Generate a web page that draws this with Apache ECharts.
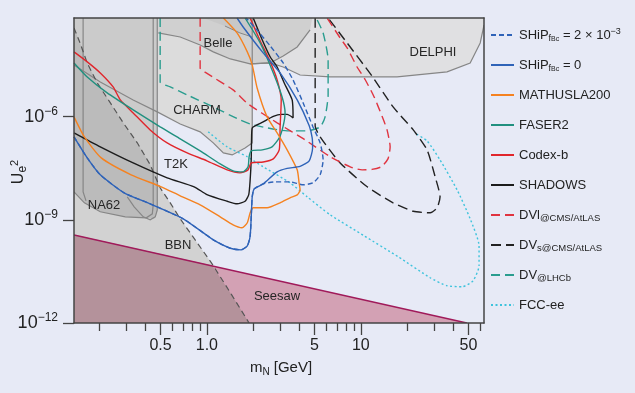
<!DOCTYPE html>
<html><head><meta charset="utf-8">
<script src="https://cdn.jsdelivr.net/npm/echarts@6/dist/echarts.min.js"></script>
<style>html,body{margin:0;padding:0;background:#e7eaf6;}#c{width:635px;height:393px;}</style>
</head><body><div id="c"></div>
<script>
// ---------- axis ranges & ticks ----------
const XMIN = 0.137, XMAX = 63.1, YMIN = 1e-12, YMAX = 7.35e-4;
const xMajorTicks = [0.5, 1, 5, 10, 50];
const xMinorTicks = [0.2, 0.3, 0.4, 0.6, 0.7, 0.8, 0.9, 2, 3, 4, 6, 7, 8, 9, 20, 30, 40, 60];
const yMajorTicks = [1e-12, 1e-9, 1e-6];

// ---------- sensitivity curves (m_N [GeV], U_e^2) ----------
const shipDashM = [0.137,0.167,0.203,0.290,0.428,0.702,1.10,1.42,1.67,1.83,1.91,1.95,1.97,2.03,2.32,2.78,3.47,4.22,4.89,5.44,5.69,5.44,4.89,4.22,3.63,3.13,2.58,2.06,1.80];
const shipDashU = [2.57e-7,6.3e-8,2.03e-8,6.1e-9,2.91e-9,1.07e-9,2.62e-10,1.49e-10,1.34e-10,1.76e-10,3.43e-10,1.95e-9,4.66e-9,7.9e-9,1.11e-8,1.27e-8,1.27e-8,1.04e-8,1.19e-8,2.03e-8,5.5e-8,1.72e-7,5.0e-7,2.5e-6,1.16e-5,3.63e-5,1.13e-4,3.77e-4,7.35e-4];
const shipM = [0.137,0.167,0.203,0.290,0.428,0.702,1.10,1.42,1.67,1.83,1.91,1.95,1.97,2.03,2.32,2.86,3.32,4.03,4.62,4.86,4.83,4.62,3.86,2.99,2.32,1.72,1.57];
const shipU = [2.57e-7,6.3e-8,2.03e-8,6.1e-9,2.91e-9,1.07e-9,2.62e-10,1.49e-10,1.34e-10,1.76e-10,3.43e-10,1.95e-9,4.66e-9,7.9e-9,1.11e-8,2.48e-8,3.13e-8,3.58e-8,5.2e-8,1.23e-7,2.4e-7,5.4e-7,3.05e-6,1.86e-5,7.1e-5,4.03e-4,7.35e-4];
const mathM = [0.137,0.160,0.206,0.322,0.505,0.671,0.904,1.22,1.48,1.69,1.83,1.91,2.0,2.46,2.99,3.47,3.86,4.03,3.97,3.86,3.32,2.86,2.46,2.12,1.97,1.83,1.57,1.28];
const mathU = [9.8e-7,2.57e-7,6.3e-8,2.03e-8,9.1e-9,4.98e-9,2.72e-9,1.22e-9,7.1e-10,5.85e-10,8.2e-10,1.6e-9,2.23e-9,2.23e-9,3.11e-9,4.35e-9,5.3e-9,7.4e-9,1.19e-8,2.83e-8,1.08e-7,3.37e-7,9.8e-7,6.8e-6,3.18e-5,7.6e-5,2.7e-4,7.35e-4];
const faserM = [0.137,0.167,0.225,0.332,0.497,0.671,0.904,1.22,1.48,1.72,1.85,1.88,1.94,2.29,2.65,2.95,3.13,3.22,3.08,2.70,2.22,1.77];
const faserU = [3.63e-5,1.42e-5,4.9e-6,1.57e-6,5.0e-7,2.25e-7,1.01e-7,4.2e-8,2.65e-8,2.48e-8,3.46e-8,6.8e-8,1.01e-7,1.08e-7,1.32e-7,2.4e-7,5.4e-7,1.28e-6,3.73e-6,1.86e-5,1.38e-4,7.35e-4];
const codexM = [0.137,0.167,0.203,0.246,0.274,0.332,0.428,0.552,0.745,1.0,1.355,1.64,1.85,1.94,2.32,2.70,2.95,2.99,3.04,2.86,2.58,2.22,1.91];
const codexU = [7.6e-5,3.9e-5,1.86e-5,7.3e-6,3.05e-6,1.28e-6,4.1e-7,1.72e-7,8.8e-8,5.2e-8,2.83e-8,2.32e-8,2.83e-8,4.5e-8,4.8e-8,5.9e-8,1.08e-7,5.0e-7,3.05e-6,1.16e-5,3.9e-5,1.58e-4,7.35e-4];
const shadowsM = [0.137,0.203,0.332,0.552,0.827,1.00,1.355,1.57,1.77,1.87,1.91,1.94,1.95,1.97,2.32,2.70,3.04,3.32,3.63,3.58,3.18,2.86,2.58,2.29,2.0];
const shadowsU = [3.37e-7,1.32e-7,4.5e-8,1.66e-8,9.1e-9,5.4e-9,3.46e-9,2.92e-9,3.46e-9,5.4e-9,1.44e-8,5.5e-8,2.1e-7,4.7e-7,7.0e-7,1.01e-6,1.16e-6,1.16e-6,9.2e-7,3.05e-6,9.5e-6,2.77e-5,5.4e-5,1.69e-4,7.35e-4];
const dvlM = [0.904,0.904,0.99,1.48,1.85,2.86,4.35,6.32,8.53,10.2,11.8,13.55,15.0,15.5,14.8,13.7,12.2,10.7,9.46,8.15,7.34,6.04];
const dvlU = [7.35e-4,2.6e-5,1.86e-5,5.97e-6,2.34e-6,6.6e-7,2.1e-7,6.8e-8,3.46e-8,2.83e-8,2.92e-8,3.46e-8,5.9e-8,1.32e-7,4.1e-7,1.05e-6,3.73e-6,1.16e-5,2.77e-5,9.9e-5,1.93e-4,7.35e-4];
const dvsM = [5.05,5.05,5.44,7.34,11.0,16.2,21.9,28.2,31.3,32.7,30.4,26.9,21.9,16.2,11.8,8.15,6.13];
const dvsU = [7.35e-4,5.4e-7,2.57e-7,4.5e-8,9.1e-9,3.11e-9,1.77e-9,1.6e-9,2.23e-9,4.66e-9,1.77e-8,1.08e-7,4.1e-7,1.91e-6,1.52e-5,1.38e-4,7.35e-4];
const dvLhcbM = [0.497,0.497,0.578,0.745,1.10,1.64,1.91,2.46,3.32,4.48,5.44,5.86,6.13,6.13,5.69,5.13];
const dvLhcbU = [7.35e-4,1.02e-5,7.3e-6,4.27e-6,1.91e-6,8.0e-7,6.1e-7,4.7e-7,3.85e-7,3.85e-7,5.0e-7,9.8e-7,4.27e-6,4.4e-5,2.7e-4,7.35e-4];
const fccM = [1.02,1.355,1.83,2.32,3.47,4.48,6.32,10.5,17.5,28.2,36.3,45.5,53.6,58.6,58.6,51.3,42.2,32.7,26.9,22.2];
const fccU = [3.6e-7,1.32e-7,6.8e-8,3.46e-8,1.19e-8,4.66e-9,1.4e-9,3.43e-10,8.4e-11,2.07e-11,1.21e-11,1.13e-11,1.69e-11,4.6e-11,1.75e-10,1.07e-9,7.4e-9,5.5e-8,1.97e-7,3.37e-7];

// ---------- excluded regions ----------
const bbnM = [0.137,0.150,0.167,0.194,0.236,0.286,0.353,0.428,0.497,0.578,0.671,0.839,1.07,1.42,1.88,0.137];
const bbnU = [3.77e-4,1.38e-4,3.6e-5,9.5e-6,2.5e-6,6.6e-7,1.73e-7,4.0e-8,8.5e-9,3.1e-9,1.07e-9,2.6e-10,5.6e-11,7.6e-12,1e-12,1e-12];
const seesawM = [0.137,48.8,0.137];
const seesawU = [3.65e-10,1e-12,1e-12];
const seesawBbnM = [0.137,1.08,1.42,1.88,0.137];
const seesawBbnU = [3.65e-10,4.7e-11,7.6e-12,1e-12,1e-12];
const lowM = [0.137,0.476,0.476,0.455,0.404,0.295,0.203,0.160,0.137];
const lowU = [7.35e-4,7.35e-4,1.71e-9,1.07e-9,1.14e-9,1.22e-9,1.71e-9,3.11e-9,6.5e-9];
const lowBbnM = [0.137,0.150,0.167,0.194,0.236,0.286,0.353,0.428,0.476,0.476,0.455,0.404,0.295,0.203,0.160,0.137];
const lowBbnU = [3.77e-4,1.38e-4,3.6e-5,9.5e-6,2.5e-6,6.6e-7,1.73e-7,4.0e-8,1.36e-8,1.71e-9,1.07e-9,1.14e-9,1.22e-9,1.71e-9,3.11e-9,6.5e-9];
const charmM = [0.476,1.97,1.97,1.77,1.46,1.28,1.10,0.904,0.671,0.497,0.476];
const charmU = [7.35e-4,7.35e-4,1.72e-7,1.23e-7,7.7e-8,8.8e-8,1.72e-7,3.6e-7,6.1e-7,1.28e-6,1.37e-6];
const charmLineM = [0.137,0.203,0.332,0.476,0.671,0.904,1.10,1.28,1.46,1.77,1.97,1.97];
const charmLineU = [3.18e-5,1.02e-5,3.05e-6,1.37e-6,6.1e-7,3.6e-7,1.72e-7,8.8e-8,7.7e-8,1.23e-7,1.72e-7,7.35e-4];
const belleM = [0.483,4.83,4.68,3.86,3.13,2.58,1.91,1.42,1.10,0.904,0.671,0.483];
const belleU = [7.35e-4,7.35e-4,3.3e-4,1.06e-4,5.8e-5,3.63e-5,3.4e-5,4.74e-5,7.6e-5,1.21e-4,2.06e-4,2.7e-4];
const belle2M = [0.946,1.97,1.97,1.64,1.31];
const belle2U = [7.35e-4,7.35e-4,2.06e-4,2.7e-4,4.3e-4];
const delphiM = [1.77,63.1,63.1,59.6,51.3,36.3,17.2,6.32,4.03,3.13,2.58,1.91];
const delphiU = [7.35e-4,7.35e-4,4.6e-4,1.38e-4,3.63e-5,1.99e-5,1.42e-5,1.42e-5,1.62e-5,2.77e-5,3.63e-5,3.4e-5];
const na62LineM = [0.137,0.160,0.203,0.295,0.404,0.442,0.448,0.448];
const na62LineU = [6.5e-9,3.11e-9,1.71e-9,1.22e-9,1.14e-9,1.49e-9,2.72e-9,7.35e-4];
const ps1LineM = [0.157,0.157,0.164];
const ps1LineU = [7.35e-4,6.5e-9,3.56e-9];
const ps2LineM = [0.476,0.476,0.462,0.428,0.386,0.337,0.304];
const ps2LineU = [7.35e-4,1.95e-9,1.22e-9,1e-9,1.22e-9,2.38e-9,4.66e-9];

const FONT = '"Liberation Sans", Arial, sans-serif';

function poly(M, U, fill, z) {
  return {type:'custom', coordinateSystem:'cartesian2d', xAxisIndex:0, yAxisIndex:0, silent:true, z:z, clip:true,
    data:[[1,1e-6]],
    renderItem:function(p, api){
      return {type:'polygon', shape:{points:M.map(function(m,i){return api.coord([m,U[i]]);})}, style:{fill:fill}};
    }};
}
function pline(M, U, color, width, dash, z) {
  return {type:'custom', coordinateSystem:'cartesian2d', xAxisIndex:0, yAxisIndex:0, silent:true, z:z, clip:true,
    data:[[1,1e-6]],
    renderItem:function(p, api){
      return {type:'polyline', shape:{points:M.map(function(m,i){return api.coord([m,U[i]]);})},
        style:{stroke:color, lineWidth:width, fill:null, lineDash:dash||null}};
    }};
}
function curve(name, M, U, color, dash, z) {
  return {type:'line', name:name, xAxisIndex:0, yAxisIndex:0, data:M.map(function(m,i){return [m,U[i]];}),
    symbol:'none', showSymbol:false, smooth:0.2, silent:true, z:z||10,
    lineStyle:{color:color, width:1.4, type:dash||'solid'}, itemStyle:{color:color}};
}

const GRAY_LINE = '#868686';
const series = [
  poly(delphiM, delphiU, '#e0e0e2', 1),
  poly(charmM, charmU, '#dcdcdc', 1),
  poly(belleM, belleU, '#d0d0d0', 1),
  poly(belle2M, belle2U, '#c8c8c8', 1),
  poly(bbnM, bbnU, '#d2d2d2', 1),
  poly(lowM, lowU, '#cbcbcb', 1),
  poly(lowBbnM, lowBbnU, '#bbbbbb', 1),
  poly(seesawM, seesawU, '#d3a1b4', 1),
  poly(seesawBbnM, seesawBbnU, '#b4929b', 1),
  pline(delphiM.slice(2).reverse(), delphiU.slice(2).reverse(), GRAY_LINE, 1.2, null, 3),
  pline(belleM.slice(2, 11).concat([0.483]), belleU.slice(2, 11).concat([2.7e-4]), GRAY_LINE, 1.2, null, 3),
  pline(belle2M.slice(2), belle2U.slice(2), GRAY_LINE, 1.0, null, 3),
  pline(charmLineM, charmLineU, GRAY_LINE, 1.2, null, 3),
  pline(na62LineM, na62LineU, GRAY_LINE, 1.2, null, 3),
  pline(ps1LineM, ps1LineU, GRAY_LINE, 1.2, null, 3),
  pline(ps2LineM, ps2LineU, GRAY_LINE, 1.2, null, 3),
  pline(bbnM.slice(0, 15), bbnU.slice(0, 15), '#555555', 1.2, [6, 4], 4),
  pline(seesawM.slice(0, 2), seesawU.slice(0, 2), '#a01a5a', 1.5, null, 4),
  curve('fcc', fccM, fccU, '#3ec3dc', [2, 2.5], 9),
  curve('dvlhcb', dvLhcbM, dvLhcbU, '#2a9d8f', [9, 5], 9),
  curve('dvs', dvsM, dvsU, '#222222', [10, 5], 9),
  curve('dvl', dvlM, dvlU, '#e03440', [9, 5], 9),
  curve('shadows', shadowsM, shadowsU, '#1c1c1c'),
  curve('codex', codexM, codexU, '#e0262c'),
  curve('faser', faserM, faserU, '#21907f'),
  curve('math', mathM, mathU, '#f58220'),
  curve('shipS', shipM, shipU, '#2f63b8'),
  curve('shipD', shipDashM, shipDashU, '#2f63b8', [5, 3])
];

const legendNames = ['shipD','shipS','math','faser','codex','shadows','dvl','dvs','dvlhcb','fcc'];
const legendText = {
  shipD:'SHiP{sub|f}{sub2|Bc} = 2 × 10{sup|−3}',
  shipS:'SHiP{sub|f}{sub2|Bc} = 0',
  math:'MATHUSLA200', faser:'FASER2', codex:'Codex-b', shadows:'SHADOWS',
  dvl:'DVl{sm|@CMS/AtLAS}', dvs:'DV{sm|s@CMS/AtLAS}', dvlhcb:'DV{sm|@LHCb}', fcc:'FCC-ee'
};

const axisLineStyle = {color:'#444', width:1.5};
function txt(x, y, s) {
  return {type:'text', x:x, y:y, z:100, silent:true,
    style:{text:s, fill:'#262626', font:'13px ' + FONT, align:'center', verticalAlign:'middle', textAlign:'center', textVerticalAlign:'middle'}};
}

const option = {
  animation:false,
  backgroundColor:'#e7eaf6',
  grid:{left:74, right:151, top:18, bottom:70},
  xAxis:[
    {type:'log', min:XMIN, max:XMAX, position:'bottom', z:20,
      axisLine:{show:true, lineStyle:axisLineStyle},
      axisTick:{show:true, length:12, customValues:xMajorTicks, lineStyle:{color:'#444', width:1.3}},
      axisLabel:{customValues:xMajorTicks, margin:15, fontSize:16, color:'#222', fontFamily:FONT,
        formatter:function(v){ return Math.abs(v-1) < 1e-9 ? '1.0' : String(+v.toPrecision(3)); }},
      splitLine:{show:false}, minorTick:{show:false}},
    {type:'log', min:XMIN, max:XMAX, position:'bottom', z:20,
      axisLine:{show:false},
      axisTick:{show:true, length:8, customValues:xMinorTicks, lineStyle:{color:'#444', width:1.3}},
      axisLabel:{show:false}, splitLine:{show:false}},
    {type:'log', min:XMIN, max:XMAX, position:'top', z:20,
      axisLine:{show:true, lineStyle:axisLineStyle}, axisTick:{show:false}, axisLabel:{show:false}, splitLine:{show:false}}
  ],
  yAxis:[
    {type:'log', min:YMIN, max:YMAX, position:'left', z:20,
      axisLine:{show:true, lineStyle:axisLineStyle},
      axisTick:{show:true, length:11, customValues:yMajorTicks, lineStyle:{color:'#444', width:1.3}},
      axisLabel:{customValues:yMajorTicks, margin:16, color:'#222', fontFamily:FONT,
        formatter:function(v){ const e = Math.round(Math.log10(v)); return '{b|10}{s|−' + (-e) + '}'; },
        rich:{b:{fontSize:18, lineHeight:22, fontFamily:FONT, color:'#222'},
              s:{fontSize:12, lineHeight:12, verticalAlign:'top', fontFamily:FONT, color:'#222'}}},
      splitLine:{show:false}},
    {type:'log', min:YMIN, max:YMAX, position:'right', z:20,
      axisLine:{show:true, lineStyle:axisLineStyle}, axisTick:{show:false}, axisLabel:{show:false}, splitLine:{show:false}}
  ],
  legend:{orient:'vertical', left:490, top:27, padding:0, itemWidth:23, itemHeight:16, itemGap:14, selectedMode:false,
    itemStyle:{opacity:0},
    data:legendNames,
    formatter:function(n){ return legendText[n]; },
    textStyle:{fontSize:13, color:'#222', fontFamily:FONT, lineHeight:16,
      rich:{
        sub:{fontSize:9, lineHeight:10, verticalAlign:'bottom', fontFamily:FONT, color:'#222'},
        sub2:{fontSize:7, lineHeight:6, verticalAlign:'bottom', fontFamily:FONT, color:'#222'},
        sup:{fontSize:9, lineHeight:9, verticalAlign:'top', fontFamily:FONT, color:'#222'},
        sm:{fontSize:9.5, lineHeight:12, verticalAlign:'bottom', fontFamily:FONT, color:'#222'}
      }}},
  graphic:[
    txt(218, 43, 'Belle'), txt(197, 110, 'CHARM'), txt(176, 164, 'T2K'), txt(104, 205, 'NA62'),
    txt(178, 245, 'BBN'), txt(277, 296, 'Seesaw'), txt(433, 52, 'DELPHI'),
    {type:'text', x:281, y:368, z:100, silent:true,
      style:{text:'{m|m}{n|N} [GeV]', fill:'#222', font:'15px ' + FONT, align:'center', verticalAlign:'middle', textAlign:'center', textVerticalAlign:'middle',
        rich:{m:{fontSize:15, lineHeight:18, fontFamily:FONT, fill:'#222'}, n:{fontSize:10, lineHeight:8, verticalAlign:'bottom', fontFamily:FONT, fill:'#222'}}}},
    {type:'text', x:19, y:172, rotation:Math.PI/2, z:100, silent:true,
      style:{text:'{u|U}{e|e}{t|2}', fill:'#222', font:'16px ' + FONT, align:'center', verticalAlign:'middle', textAlign:'center', textVerticalAlign:'middle',
        rich:{u:{fontSize:16, lineHeight:20, fontFamily:FONT, fill:'#222'}, e:{fontSize:12, lineHeight:10, verticalAlign:'bottom', fontFamily:FONT, fill:'#222'}, t:{fontSize:11, lineHeight:10, verticalAlign:'top', fontFamily:FONT, fill:'#222'}}}}
  ],
  series:series
};
const chart = echarts.init(document.getElementById('c'));
chart.setOption(option);
</script>
</body></html>
